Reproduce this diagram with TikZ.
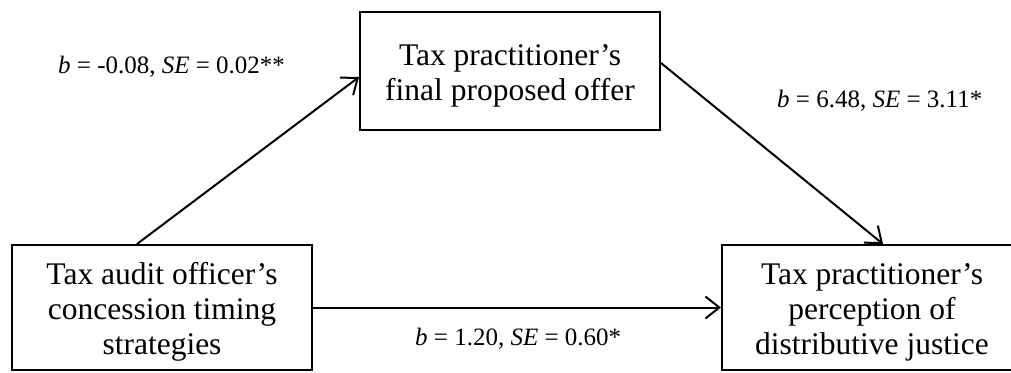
\documentclass[tikz,border=0pt]{standalone}
\usepackage{fontspec}
\setmainfont{Liberation Serif}
\usetikzlibrary{arrows.meta}

\tikzset{
  stepbox/.style={draw, line width=2pt, rectangle, minimum width=300pt,
    align=center, inner sep=0pt, text depth=7pt,
    font=\fontsize{31.5pt}{35pt}\selectfont},
  link/.style={line width=2pt, -{Straight Barb[length=14pt,width=22pt,line width=2pt]}},
  coef/.style={anchor=base west, inner sep=0pt, font=\fontsize{25pt}{30pt}\selectfont}
}

\begin{document}
\begin{tikzpicture}[x=1pt,y=-1pt]
  \useasboundingbox (0,0) rectangle (1011,372);

  % the three variables (text box baseline sits on the last line)
  \node[stepbox, minimum height=125pt, text height=100pt] (iv) at (162,307.5)
    {Tax audit officer’s\\concession timing\\strategies};
  \node[stepbox, minimum height=118pt, text height=65pt] (med) at (510,71)
    {Tax practitioner’s\\final proposed offer};
  \node[stepbox, minimum height=125pt, text height=100pt] (dv) at (872,307.5)
    {Tax practitioner’s\\perception of\\distributive justice};

  % paths
  \draw[link] ([xshift=-25pt]iv.north) -- ([yshift=-6pt]med.west);
  \draw[link] ([yshift=8pt]med.east) -- ([xshift=11pt]dv.north);
  \draw[link] (iv.east) -- (iv.east -| dv.west);

  % path coefficients
  \node[coef] (ca) at (58,73)  {\textit{b} = -0.08, \textit{SE} = 0.02**};
  \node[coef] (cb) at (777,107) {\textit{b} = 6.48, \textit{SE} = 3.11*};
  \node[coef] (cc) at (415,345) {\textit{b} = 1.20, \textit{SE} = 0.60*};
\end{tikzpicture}
\end{document}
